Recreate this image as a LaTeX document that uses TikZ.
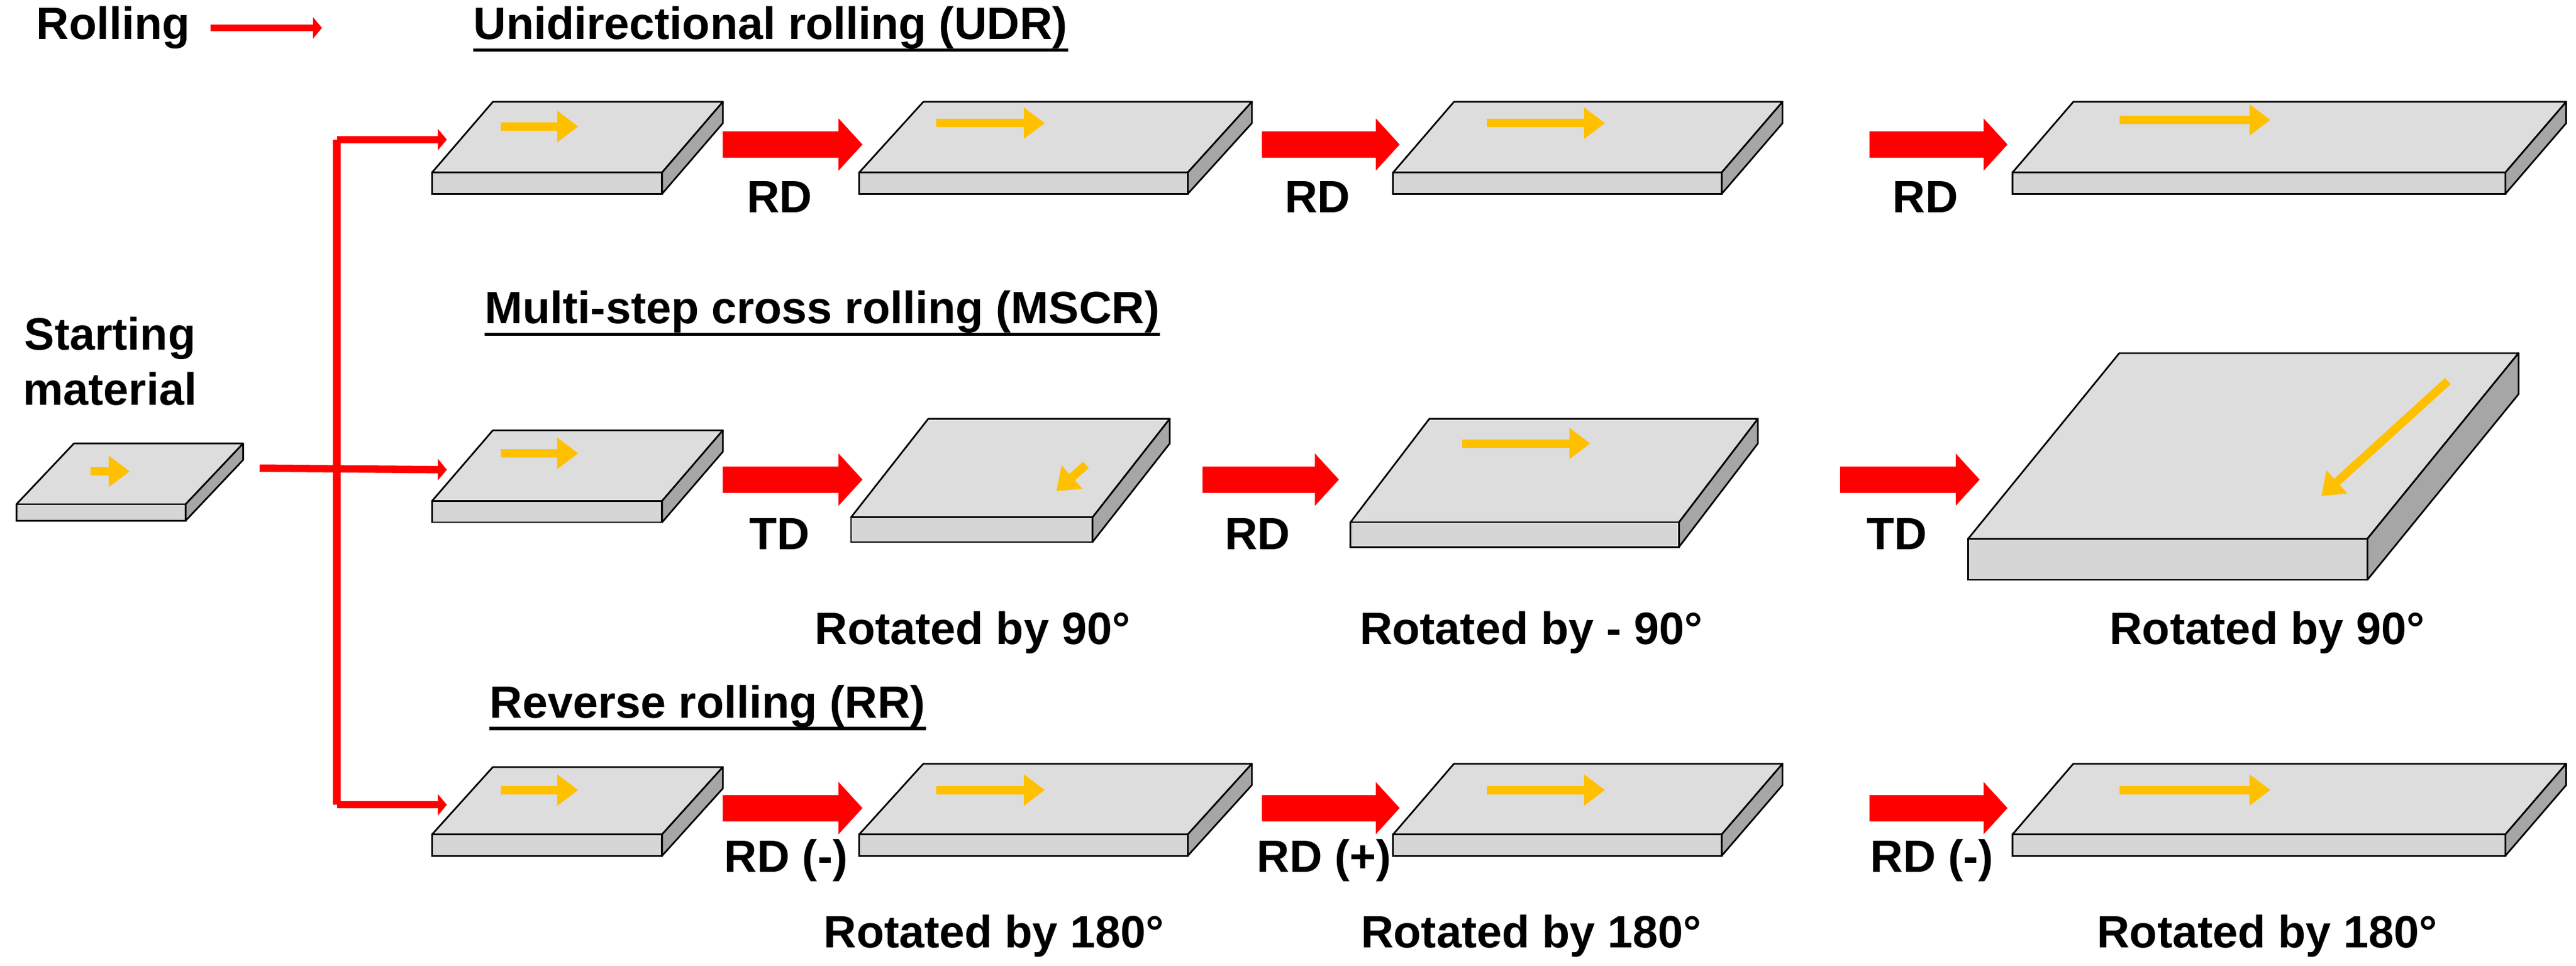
\documentclass[tikz,border=0pt]{standalone}
\usepackage{fontspec}
\setmainfont{Liberation Sans}
\usetikzlibrary{arrows.meta}
\definecolor{topgray}{HTML}{DDDDDD}
\definecolor{frontgray}{HTML}{D6D6D6}
\definecolor{sidegray}{HTML}{A6A6A6}
\definecolor{amber}{HTML}{FFC000}
\definecolor{rollred}{HTML}{FF0000}
% #1 back-left x, #2 back y, #3 width, #4 front-left x, #5 front y, #6 thickness
\newcommand\slab[6]{%
  \filldraw[top] (#1,#2) -- ++(#3,0) -- (#4+#3,#5) -- (#4,#5) -- cycle;
  \filldraw[front] (#4,#5) rectangle ++(#3,#6);
  \filldraw[side] (#4+#3,#5) -- (#1+#3,#2) -- ++(0,#6) -- (#4+#3,#5+#6) -- cycle;}
\tikzset{
  top/.style={fill=topgray, draw=black, line width=0.8pt, line join=round},
  front/.style={fill=frontgray, draw=black, line width=0.8pt},
  side/.style={fill=sidegray, draw=black, line width=0.8pt, line join=round},
  dir/.style={amber, line width=4pt, -{Triangle[length=0.35cm,width=0.5cm]}},
  roll/.style={rollred, line width=0.44cm, -{Triangle[length=0.4cm,width=0.85cm]}},
  conn/.style={rollred, line width=3.5pt},
  lbl/.style={font=\fontsize{21.5}{26}\selectfont\bfseries, inner sep=0pt},
  head/.style={lbl, anchor=west},
  uline/.style={line width=1.6pt, black},
}
\begin{document}
\begin{tikzpicture}[x=0.0274cm, y=-0.0274cm]
  \useasboundingbox (0,0) rectangle (1568,588);

  % legend
  \node[head] (legend) at (22,17) {Rolling};
  \coordinate (legA) at (128,17);
  \coordinate (legB) at (196,17);
  \draw[conn, line width=3pt, -{Triangle[length=0.15cm,width=0.35cm]}] (legA) -- (legB);

  % starting material
  \node[lbl, align=center] (start) at (67,220) {Starting\\material};
  \slab{45}{270}{103}{10}{307}{10}
  \coordinate (d0a) at (55,287); \coordinate (d0b) at (79,287);
  \draw[dir] (d0a) -- (d0b);

  % branching connector
  \coordinate (c0) at (158,285);
  \coordinate (sTop) at (205,85);
  \coordinate (sBot) at (205,490);
  \coordinate (e1) at (272,85);
  \coordinate (e2) at (272,286);
  \coordinate (e3) at (272,490);
  \draw[conn] (sTop) -- (sBot);
  \draw[conn, -{Triangle[length=0.15cm,width=0.35cm]}] (c0) -- (e2);
  \draw[conn, -{Triangle[length=0.15cm,width=0.35cm]}] (sTop) -- (e1);
  \draw[conn, -{Triangle[length=0.15cm,width=0.35cm]}] (sBot) -- (e3);

  % unidirectional rolling
  \node[head] (udr) at (288,17) {Unidirectional rolling (UDR)};
  \draw[uline] ([yshift=-5pt]udr.base west) -- ([yshift=-5pt]udr.base east);
  \slab{300}{62}{140}{263}{105}{13}
  \slab{562}{62}{200}{523}{105}{13}
  \slab{885}{62}{200}{848}{105}{13}
  \slab{1262}{62}{300}{1225}{105}{13}
  \foreach \a/\b/\y in {305/352/77, 570/636/75, 905/977/75, 1290/1382/73}
    \draw[dir] (\a,\y) -- (\b,\y);
  \foreach \a/\b/\t in {440/525/RD, 768/852/RD, 1138/1222/RD}{
    \coordinate (ua\a) at (\a,88); \coordinate (ub\a) at (\b,88);
    \draw[roll] (ua\a) -- (ub\a);
    \node[lbl] (ut\a) at ({(\a+\b)/2-8},120) {\t};}

  % multi-step cross rolling
  \node[head] (mscr) at (295,190) {Multi-step cross rolling (MSCR)};
  \draw[uline] ([yshift=-5pt]mscr.base west) -- ([yshift=-5pt]mscr.base east);
  \slab{300}{262}{140}{263}{305}{13}
  \slab{565}{255}{147}{518}{315}{15}
  \slab{870}{255}{200}{822}{318}{15}
  \slab{1290}{215}{243}{1198}{328}{25}
  \draw[dir] (305,276) -- (352,276);
  \draw[dir] (661,283) -- (643,299);
  \draw[dir] (890,270) -- (968,270);
  \draw[dir] (1490,232) -- (1413,302);
  \foreach \a/\b/\t in {440/525/TD, 732/815/RD, 1120/1205/TD}{
    \coordinate (ma\a) at (\a,292); \coordinate (mb\a) at (\b,292);
    \draw[roll] (ma\a) -- (mb\a);
    \node[lbl] (mt\a) at ({(\a+\b)/2-8},325) {\t};}
  \node[lbl] (rot1) at (592,385) {Rotated by 90°};
  \node[lbl] (rot2) at (932,385) {Rotated by - 90°};
  \node[lbl] (rot3) at (1380,385) {Rotated by 90°};

  % reverse rolling
  \node[head] (rr) at (298,430) {Reverse rolling (RR)};
  \draw[uline] ([yshift=-5pt]rr.base west) -- ([yshift=-5pt]rr.base east);
  \slab{300}{467}{140}{263}{508}{13}
  \slab{562}{465}{200}{523}{508}{13}
  \slab{885}{465}{200}{848}{508}{13}
  \slab{1262}{465}{300}{1225}{508}{13}
  \foreach \a/\b/\y in {305/352/481, 570/636/481, 905/977/481, 1290/1382/481}
    \draw[dir] (\a,\y) -- (\b,\y);
  \foreach \a/\b/\t in {440/525/RD (-), 768/852/RD (+), 1138/1222/RD (-)}{
    \coordinate (ra\a) at (\a,492); \coordinate (rb\a) at (\b,492);
    \draw[roll] (ra\a) -- (rb\a);
    \node[lbl] (rt\a) at ({(\a+\b)/2-4},524) {\t};}
  \node[lbl] (rot4) at (605,570) {Rotated by 180°};
  \node[lbl] (rot5) at (932,570) {Rotated by 180°};
  \node[lbl] (rot6) at (1380,570) {Rotated by 180°};
\end{tikzpicture}
\end{document}
